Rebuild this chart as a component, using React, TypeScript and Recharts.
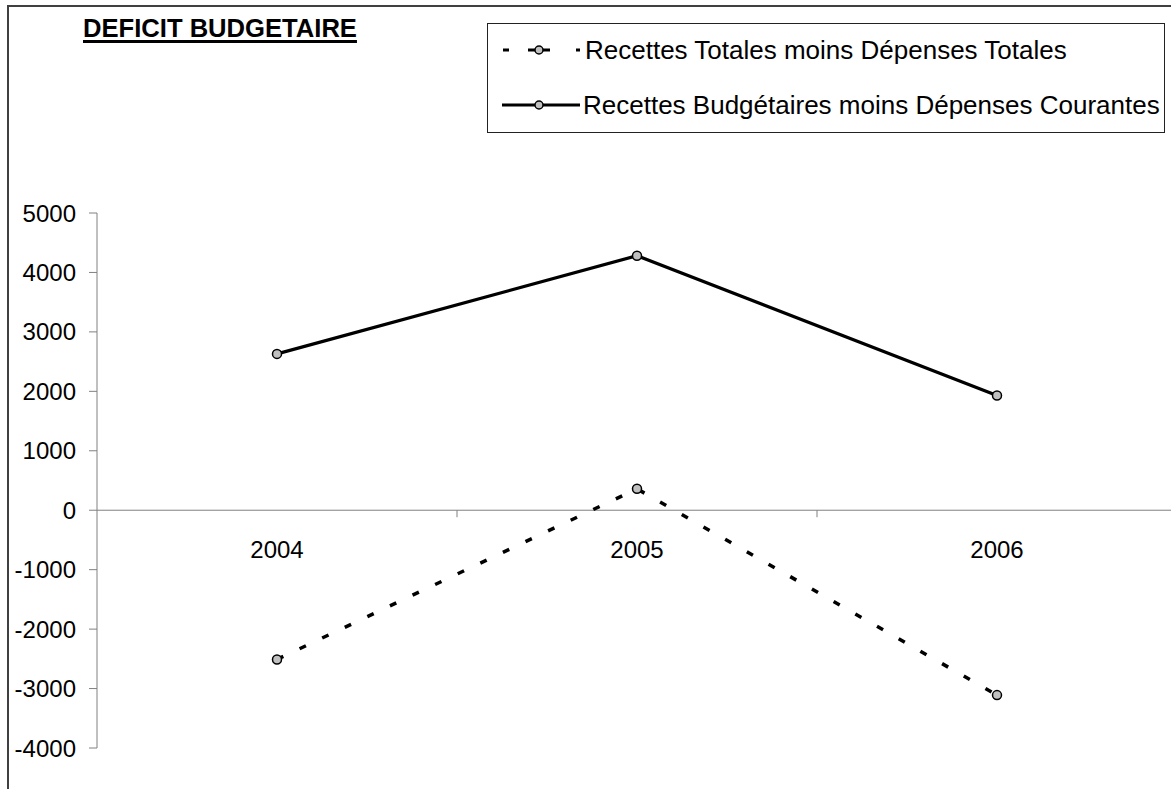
import React from 'react';
import { LineChart, Line, XAxis, YAxis, ReferenceLine, ReferenceDot, Legend } from 'recharts';

const title = 'DEFICIT BUDGETAIRE';
const categories = ['2004', '2005', '2006'];
const totalBalance = [-2510, 360, -3110];
const currentBalance = [2630, 4280, 1930];
const seriesNames = [
  'Recettes Totales moins Dépenses Totales',
  'Recettes Budgétaires moins Dépenses Courantes',
];
const yTicks = [-4000, -3000, -2000, -1000, 0, 1000, 2000, 3000, 4000, 5000];

const data = categories.map((c, i) => ({
  year: c,
  total: totalBalance[i],
  courant: currentBalance[i],
}));

const FONT = '"Liberation Sans", Arial, Helvetica, sans-serif';
const AXIS = '#808080';
const DASH = '7 18';

const Marker = (props: any) => {
  const { cx, cy, index } = props;
  if (cx == null || cy == null) return null;
  return <circle key={index} cx={cx} cy={cy} r={4.5} fill="#C0C0C0" stroke="#000" strokeWidth={1.5} />;
};

const ZeroAxis = (props: any) => {
  const { x1, x2, y1 } = props;
  const n = categories.length;
  const marks = [];
  for (let k = 1; k < n; k++) {
    const x = x1 + ((x2 - x1) * k) / n;
    marks.push(<line key={k} x1={x} x2={x} y1={y1} y2={y1 + 7} stroke={AXIS} strokeWidth={1} />);
  }
  return (
    <g>
      <line x1={x1} x2={x2} y1={y1} y2={y1} stroke={AXIS} strokeWidth={1} />
      {marks}
    </g>
  );
};

const LegendBox = () => {
  const w = 678;
  const h = 110;
  const rows = [27, 82];
  return (
    <svg width={w} height={h} style={{ display: 'block' }}>
      <rect x={0.5} y={0.5} width={w - 1} height={h - 1} fill="#fff" stroke="#222" strokeWidth={1} />
      <line x1={16} x2={93} y1={rows[0]} y2={rows[0]} stroke="#000" strokeWidth={3} strokeDasharray="6 19 22 26 4" />
      <circle cx={52} cy={rows[0]} r={4} fill="#C0C0C0" stroke="#000" strokeWidth={1.5} />
      <text x={98} y={rows[0] + 9} fontSize={26} fontFamily={FONT} fill="#000">{seriesNames[0]}</text>
      <line x1={15} x2={93} y1={rows[1]} y2={rows[1]} stroke="#000" strokeWidth={3} />
      <circle cx={52} cy={rows[1]} r={4} fill="#C0C0C0" stroke="#000" strokeWidth={1.5} />
      <text x={96} y={rows[1] + 9} fontSize={26} fontFamily={FONT} fill="#000">{seriesNames[1]}</text>
    </svg>
  );
};

export default function App() {
  return (
    <div
      style={{
        position: 'absolute',
        left: 0,
        top: 0,
        width: 1171,
        height: 789,
        overflow: 'hidden',
        background: '#fff',
        fontFamily: FONT,
      }}
    >
      <div
        style={{
          position: 'absolute',
          left: 7,
          top: 5,
          width: 1400,
          height: 1000,
          borderLeft: '2px solid #404040',
          borderTop: '2px solid #404040',
        }}
      />
      <div style={{ position: 'absolute', left: 0, top: 0 }}>
        <LineChart width={1200} height={789} data={data} margin={{ top: 213, right: 23, bottom: 41, left: 17 }}>
          <XAxis dataKey="year" scale="band" hide />
          <YAxis
            type="number"
            domain={[-4000, 5000]}
            ticks={yTicks}
            interval={0}
            width={80}
            tickSize={8}
            tickMargin={13}
            allowDataOverflow
            axisLine={{ stroke: AXIS, strokeWidth: 1 }}
            tickLine={{ stroke: AXIS, strokeWidth: 1 }}
            tick={{ fill: '#000', fontSize: 24, fontFamily: FONT }}
          />
          <ReferenceLine y={0} shape={ZeroAxis} />
          {categories.map((c) => (
            <ReferenceDot
              key={c}
              x={c}
              y={0}
              r={0}
              fill="none"
              stroke="none"
              label={{ value: c, position: 'bottom', offset: 31, fill: '#000', fontSize: 24, fontFamily: FONT }}
            />
          ))}
          <Line
            type="linear"
            dataKey="total"
            name={seriesNames[0]}
            stroke="#000"
            strokeWidth={3.5}
            strokeDasharray={DASH}
            dot={Marker}
            activeDot={false}
            isAnimationActive={false}
          />
          <Line
            type="linear"
            dataKey="courant"
            name={seriesNames[1]}
            stroke="#000"
            strokeWidth={3.2}
            dot={Marker}
            activeDot={false}
            isAnimationActive={false}
          />
          <Legend
            layout="vertical"
            align="center"
            verticalAlign="middle"
            wrapperStyle={{ position: 'absolute', left: 487, top: 23, width: 678, height: 110 }}
            content={() => <LegendBox />}
          />
        </LineChart>
      </div>
      <div
        style={{
          position: 'absolute',
          left: 83,
          top: 15.5,
          fontSize: 25.6,
          lineHeight: '25px',
          fontWeight: 'bold',
          color: '#000',
          textDecoration: 'underline',
          textDecorationThickness: '3px',
          textUnderlineOffset: '3px',
          whiteSpace: 'nowrap',
        }}
      >
        {title}
      </div>
    </div>
  );
}
